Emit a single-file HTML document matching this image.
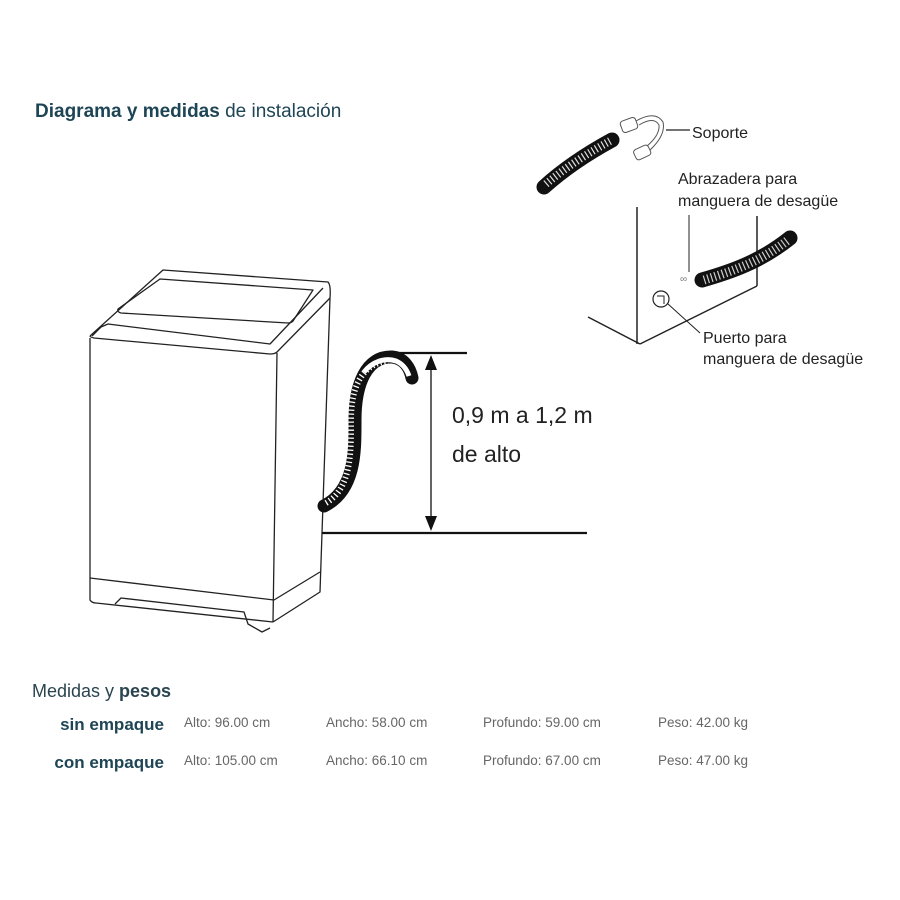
<!DOCTYPE html>
<html><head><meta charset="utf-8"><style>
body{margin:0;background:#fff;}
svg{display:block}
</style></head><body>
<svg width="900" height="900" viewBox="0 0 900 900" xmlns="http://www.w3.org/2000/svg" font-family="Liberation Sans, sans-serif">
<rect width="900" height="900" fill="#fff"/>
<text x="35" y="117" font-size="19" fill="#1e4555"><tspan font-weight="bold">Diagrama y medidas</tspan> de instalación</text>

<!-- washer -->
<g fill="none" stroke="#222" stroke-width="1.3" stroke-linejoin="round">
<path d="M90,336 L163,270 L328,282 Q331,285 330,298 L277,352 Q275,354 270,354 L94,338 Q90,337 90,336"/>
<path d="M92,336 L101,327 L108,324 L270,344 L323,288"/>
<path d="M118,309 L160,279 L313,290 L293,321 Q291,323 288,323 L121,313 Q117,312 118,309 Z"/>
<path d="M90,338 L90,600 Q92,603 96,603 L273,622"/>
<path d="M277,353 L273,622"/>
<path d="M330,298 L320,592 L273,622"/>
<path d="M90,578 L274,600 L320,572"/>
<path d="M115,604 L121,598 L244,612 L248,624 L262,632 L270,628"/>
</g>
<!-- hose -->
<path d="M324,506 C356,490 355,450 355,420 C355,385 366,356 392,357 C404,358 410,368 412,378" fill="none" stroke="#111" stroke-width="13" stroke-linecap="round"/>
<path d="M326,503 C352,488 351,450 351,420 C351,390 360,364 388,361" fill="none" stroke="#fff" stroke-width="6" stroke-dasharray="1.3,2.7"/>
<path d="M364,372 C372,362 385,357 396,361 C403,364 407,370 409,376" fill="none" stroke="#fff" stroke-width="5"/>
<!-- dimension -->
<g stroke="#111" stroke-width="2.2">
<line x1="388" y1="353" x2="467" y2="353"/>
<line x1="322" y1="533" x2="587" y2="533"/>
<line x1="431" y1="362" x2="431" y2="524" stroke-width="1.3"/>
</g>
<path d="M431,355 L425,370 L437,370 Z M431,531 L425,516 L437,516 Z" fill="#111"/>
<text x="452" y="423" font-size="23" fill="#222">0,9 m a 1,2 m</text>
<text x="452" y="462" font-size="23" fill="#222">de alto</text>

<!-- top-right detail -->
<path d="M544,187 C565,168 590,152 612,140" fill="none" stroke="#111" stroke-width="15" stroke-linecap="round"/>
<path d="M546,184 C566,167 590,152 610,141" fill="none" stroke="#ddd" stroke-width="8" stroke-dasharray="1.2,2.6"/>
<g fill="none" stroke="#555" stroke-width="1">
<rect x="621" y="119" width="16" height="12" rx="3" transform="rotate(-20 629 125)"/>
<rect x="634" y="147" width="16" height="11" rx="3" transform="rotate(-25 642 152)"/>
<path d="M636,121 Q655,110 663,122 Q666,135 650,150"/>
<path d="M639,125 Q654,116 659,125 Q660,135 647,146"/>
<line x1="666" y1="130" x2="690" y2="130" stroke="#222" stroke-width="1.3"/>
</g>
<text x="692" y="138" font-size="16" fill="#222">Soporte</text>
<text x="678" y="184" font-size="16" fill="#222">Abrazadera para</text>
<text x="678" y="206" font-size="16" fill="#222">manguera de desagüe</text>
<g stroke="#222" stroke-width="1.5" fill="none">
<line x1="637" y1="207" x2="637" y2="344"/>
<line x1="588" y1="317" x2="640" y2="344"/>
<line x1="640" y1="344" x2="757" y2="286"/>
<line x1="757" y1="216" x2="757" y2="286"/>
<line x1="689" y1="215" x2="689" y2="272" stroke-width="1"/>
<circle cx="661" cy="299" r="8" stroke-width="1.2"/>
<path d="M657,296 L664,296 L664,304" stroke-width="1"/>
<line x1="668" y1="304" x2="700" y2="333" stroke-width="1"/>
</g>
<path d="M702,280 C730,272 760,262 790,238" fill="none" stroke="#111" stroke-width="15" stroke-linecap="round"/>
<path d="M704,280 C730,272 760,262 788,240" fill="none" stroke="#ccc" stroke-width="9" stroke-dasharray="1.2,2.6"/>
<text x="680" y="282" font-size="10" fill="#777">∞</text>
<text x="703" y="343" font-size="16" fill="#222">Puerto para</text>
<text x="703" y="364" font-size="16" fill="#222">manguera de desagüe</text>

<!-- table -->
<text x="32" y="697" font-size="18" fill="#2a4450">Medidas y <tspan font-weight="bold">pesos</tspan></text>
<g font-weight="bold" font-size="17" fill="#1e4555" text-anchor="end">
<text x="164" y="730">sin empaque</text>
<text x="164" y="768">con empaque</text>
</g>
<g font-size="13.5" fill="#666">
<text x="184" y="727">Alto: 96.00 cm</text>
<text x="326" y="727">Ancho: 58.00 cm</text>
<text x="483" y="727">Profundo: 59.00 cm</text>
<text x="658" y="727">Peso: 42.00 kg</text>
<text x="184" y="765">Alto: 105.00 cm</text>
<text x="326" y="765">Ancho: 66.10 cm</text>
<text x="483" y="765">Profundo: 67.00 cm</text>
<text x="658" y="765">Peso: 47.00 kg</text>
</g>
</svg>
</body></html>
